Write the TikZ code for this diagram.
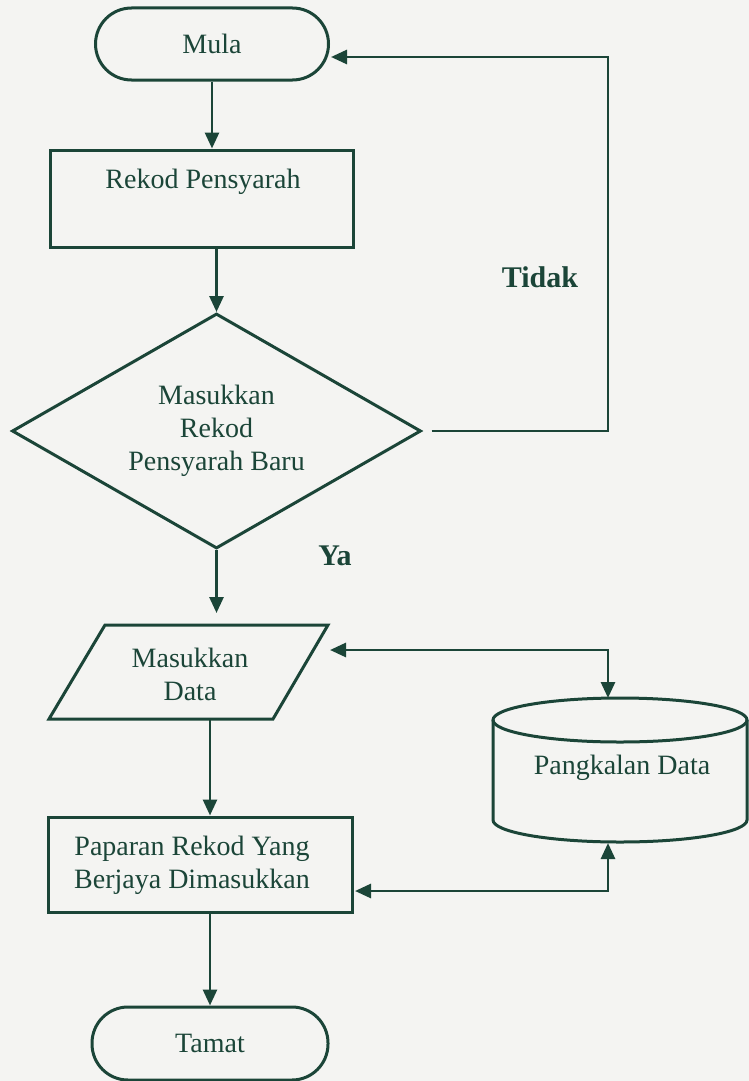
\documentclass[tikz,border=0pt]{standalone}
\usepackage{fontspec}
\setmainfont{Liberation Serif}
\usetikzlibrary{arrows.meta,shapes.geometric}
\definecolor{ink}{HTML}{1B4538}
\definecolor{paper}{HTML}{F4F4F2}
\begin{document}
\begin{tikzpicture}[x=1pt,y=-1pt,
  every node/.style={text=ink, font=\fontsize{28}{33}\selectfont},
  outline/.style={draw=ink, line width=3pt},
  terminal/.style={outline, rectangle, rounded corners=36pt, minimum height=72pt, inner sep=0pt},
  procbox/.style={outline, rectangle, inner sep=0pt},
  decision/.style={outline, diamond, aspect=1.74, minimum width=409pt, minimum height=235pt, inner sep=0pt, align=center},
  flow/.style={draw=ink, line width=2.8pt, -{Triangle[length=16pt,width=14pt]}},
  twoway/.style={draw=ink, line width=2.8pt, {Triangle[length=16pt,width=14pt]}-{Triangle[length=16pt,width=14pt]}},
  answer/.style={font=\fontsize{30}{36}\selectfont\bfseries}
]
% page
\fill[paper] (0,0) rectangle (749,1081);
\useasboundingbox (0,0) rectangle (749,1081);

% start / end
\node[terminal, minimum width=233pt] (mula) at (212,44) {Mula};
\node[terminal, minimum width=236pt, minimum height=73pt] (tamat) at (210,1043.5) {Tamat};

% record box
\node[procbox, minimum width=303pt, minimum height=97pt] (rekod) at (201.5,198.5) {};
\node (rekodlabel) at (203,182) {Rekod Pensyarah};

% decision
\node[decision] (dec) at (216.5,431) {Masukkan\\Rekod\\Pensyarah Baru};
\node[answer] (tidak) at (540,277) {Tidak};
\node[answer] (ya) at (335,556) {Ya};

% input parallelogram
\draw[outline, line join=miter] (105,625) -- (328,625) -- (273,719) -- (49,719) -- cycle;
\node[align=center] (io) at (190,674) {Masukkan\\Data};
\coordinate (ioIn) at (216.5,613);
\coordinate (ioRight) at (330,650);
\coordinate (ioOut) at (210,719);

% database cylinder
\draw[outline] (493,720) -- (493,820) arc[start angle=180, end angle=360, x radius=127pt, y radius=22pt] -- (747,720);
\draw[outline] (620,720) ellipse[x radius=127pt, y radius=22pt];
\node (db) at (622,768) {Pangkalan Data};
\coordinate (dbTop) at (608,698);
\coordinate (dbBottom) at (608,843);

% display box
\node[procbox, minimum width=304pt, minimum height=95pt] (paparan) at (200,864.5) {};
\node[align=center] (paparanlabel) at (192,865) {Paparan Rekod Yang\\Berjaya Dimasukkan};
\coordinate (papRight) at (355,891);

% loop back corner
\coordinate (loop) at (608,57);

% connectors
\draw[flow] (mula.south) -- (mula.south |- rekod.north);
\draw[flow] (dec.north |- rekod.south) -- (dec.north);
\draw[flow] ([xshift=9pt]dec.east) -| (loop) -- ([xshift=1pt]mula.east |- loop);
\draw[flow] (dec.south) -- (ioIn);
\draw[twoway] (ioRight) -| (dbTop);
\draw[flow] (ioOut) -- (ioOut |- paparan.north);
\draw[twoway] (papRight) -| (dbBottom);
\draw[flow] (paparan.south -| tamat.north) -- (tamat.north);
\end{tikzpicture}
\end{document}
